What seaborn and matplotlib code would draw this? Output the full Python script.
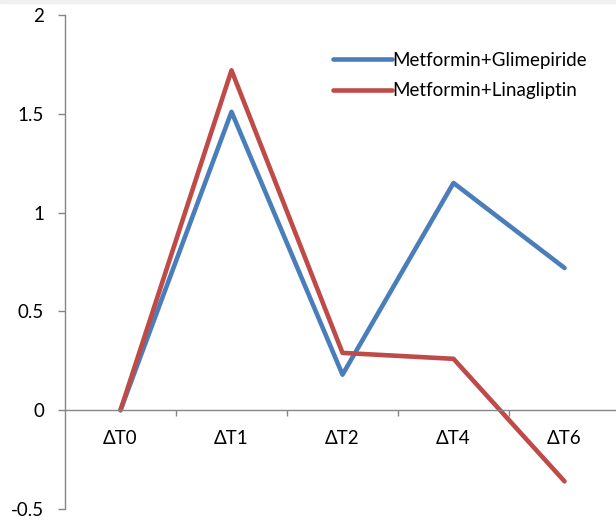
import matplotlib
matplotlib.use("Agg")
import matplotlib.pyplot as plt
import matplotlib.patches as mpatches
import seaborn as sns
import pandas as pd
from matplotlib.ticker import FixedLocator, FuncFormatter

categories = ["ΔT0", "ΔT1", "ΔT2", "ΔT4", "ΔT6"]
glimepiride = [0.0, 1.51, 0.18, 1.15, 0.72]
linagliptin = [0.0, 1.72, 0.29, 0.26, -0.36]
series_names = ["Metformin+Glimepiride", "Metformin+Linagliptin"]
yticks = [-0.5, 0, 0.5, 1, 1.5, 2]

df = pd.DataFrame({
    "cat": categories * 2,
    "value": glimepiride + linagliptin,
    "series": [series_names[0]] * len(categories) + [series_names[1]] * len(categories),
})

sns.set_style("white")
plt.rcParams["font.family"] = ["Lato", "DejaVu Sans"]
plt.rcParams["axes.unicode_minus"] = False

fig = plt.figure(figsize=(6.16, 5.22), dpi=100)
fig.patches.append(mpatches.Rectangle((0, 1 - 3 / 522), 1, 3 / 522, transform=fig.transFigure,
                                      color="#f0f0f0", zorder=0))
ax = fig.add_axes([65 / 616, 1 - 509 / 522, (616 - 65) / 616, (509 - 15) / 522])

palette = {series_names[0]: "#4A7EBB", series_names[1]: "#BE4B48"}
sns.lineplot(data=df, x="cat", y="value", hue="series", palette=palette, sort=False,
             linewidth=3.3, ax=ax, legend=True)

ax.set_xlim(-0.5, -0.5 + 551 / 111)
ax.set_ylim(-0.5, 2)
ax.set_xlabel("")
ax.set_ylabel("")

gray = "#868686"
for s in ["top", "right"]:
    ax.spines[s].set_visible(False)
ax.spines["left"].set_color(gray)
ax.spines["bottom"].set_color(gray)
ax.spines["left"].set_linewidth(1.0)
ax.spines["bottom"].set_linewidth(1.0)
ax.spines["bottom"].set_position(("data", 0))

fs = 13.5
ax.yaxis.set_major_locator(FixedLocator(yticks))
ax.yaxis.set_major_formatter(FuncFormatter(lambda v, p: f"{v:g}"))
ax.tick_params(axis="y", which="major", direction="out", length=5, width=1, color=gray,
               pad=10, labelsize=fs, labelcolor="black", left=True)
ax.set_xticks(range(len(categories)))
ax.set_xticklabels(categories)
ax.xaxis.set_minor_locator(FixedLocator([0.5, 1.5, 2.5, 3.5]))
ax.tick_params(axis="x", which="major", length=0, pad=14, labelsize=fs, labelcolor="black")
ax.tick_params(axis="x", which="minor", direction="out", length=4, width=1, color=gray, bottom=True)

handles, labels = ax.get_legend_handles_labels()
leg = ax.legend(handles, labels, loc="upper left", bbox_to_anchor=(333 / 616, 1 - 52 / 522),
                bbox_transform=fig.transFigure, frameon=False, fontsize=fs,
                handlelength=3.15, handletextpad=0.0, labelspacing=0.7,
                borderpad=0, borderaxespad=0)
for t in leg.get_texts():
    t.set_color("black")

fig.savefig("out.png", dpi=100, facecolor="white")
